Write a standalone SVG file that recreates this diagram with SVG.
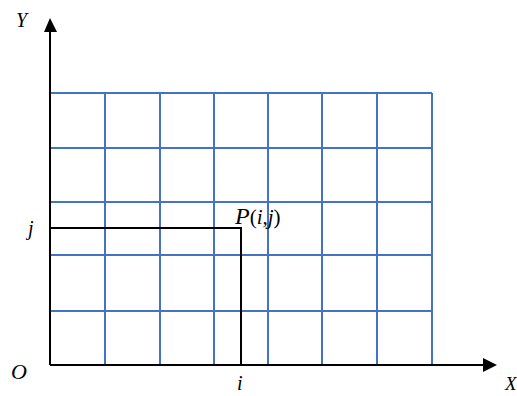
<svg xmlns="http://www.w3.org/2000/svg" width="517" height="396" viewBox="0 0 517 396">
<style>
.g{stroke:#4472C4;stroke-width:2;fill:none}
.k{stroke:#000;stroke-width:2;fill:none}
.t{font-family:"Liberation Serif",serif;font-style:italic;fill:#000}
.u{font-style:normal}
</style>
<rect width="517" height="396" fill="#fff"/>
<g id="grid">
<path class="g" d="M50,93H432M50,148H432M50,202H432M50,255H432M50,311H432"/>
<path class="g" d="M105,93V365M160,93V365M214,93V365M268,93V365M322,93V365M377,93V365M432,93V365"/>
</g>
<g id="connectors">
<path class="k" d="M50,365V30"/>
<path d="M44,32L50,18L57,32z" fill="#000"/>
<path class="k" d="M50,365H484"/>
<path d="M483,358L497,365L483,372z" fill="#000"/>
<path class="k" d="M50,228H241V365"/>
</g>
<g id="labels">
<text class="t" x="16" y="27" font-size="20">Y</text>
<text class="t" x="11" y="379" font-size="22">O</text>
<text class="t" x="505" y="390" font-size="19">X</text>
<text class="t" x="237" y="390" font-size="20">i</text>
<text class="t" x="28" y="235" font-size="20">j</text>
<text class="t" x="235" y="224" font-size="24">P<tspan class="u" font-size="21">(</tspan><tspan font-size="21">i,j</tspan><tspan class="u" font-size="21">)</tspan></text>
</g>
</svg>
